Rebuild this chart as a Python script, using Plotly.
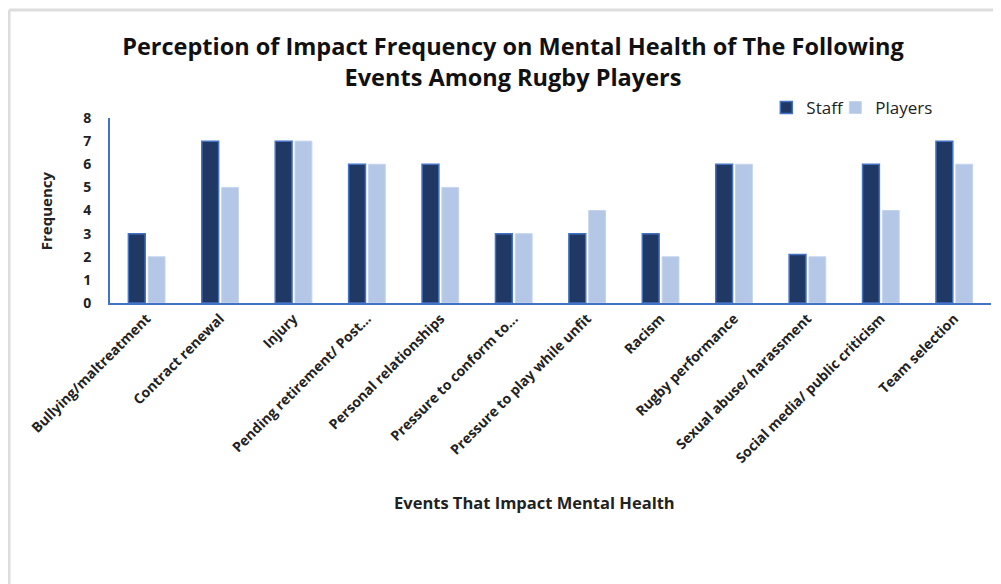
import plotly.graph_objects as go

events = [
    "Bullying/maltreatment",
    "Contract renewal",
    "Injury",
    "Pending retirement/ Post...",
    "Personal relationships",
    "Pressure to conform to...",
    "Pressure to play while unfit",
    "Racism",
    "Rugby performance",
    "Sexual abuse/ harassment",
    "Social media/ public criticism",
    "Team selection",
]
staff = [3, 7, 7, 6, 6, 3, 3, 3, 6, 2.1, 6, 7]
players = [2, 5, 7, 6, 5, 3, 4, 2, 6, 2, 4, 6]

FONT = "Open Sans"
AXIS_BLUE = "#4472C4"

fig = go.Figure()
fig.add_trace(go.Bar(
    name="Staff", x=events, y=staff, legend="legend", showlegend=True,
    marker=dict(color="#203864", line=dict(color=AXIS_BLUE, width=1.5)),
))
fig.add_trace(go.Bar(
    name="Players", x=events, y=players, legend="legend2", showlegend=True,
    marker=dict(color="#B4C7E7", line=dict(color="#C5D4EE", width=1)),
))

legend_style = dict(
    orientation="h", y=1.054, xanchor="left", yanchor="middle",
    font=dict(size=17, color="#222"), itemwidth=30, bgcolor="rgba(0,0,0,0)",
)

# the page body adds an 8px offset, so margins are shifted to compensate
fig.update_layout(
    width=1001, height=584,
    paper_bgcolor="white", plot_bgcolor="white",
    margin=dict(l=102, r=18, t=110, b=289),
    barmode="group", bargap=0.46, bargroupgap=0.15,
    font=dict(family=FONT, color="#222"),
    showlegend=True,
    title=dict(
        text="Perception of Impact Frequency on Mental Health of The Following<br>Events Among Rugby Players",
        x=505 / 1001, xanchor="center", y=0.919, yanchor="middle",
        font=dict(family=FONT, size=23.5, color="#111", weight="bold"),
    ),
    legend=dict(x=0.745, **legend_style),
    legend2=dict(x=0.8233, **legend_style),
    xaxis=dict(
        showline=True, linecolor=AXIS_BLUE, linewidth=2, showgrid=False,
        tickangle=-45, ticks="", automargin=False,
        tickfont=dict(size=14, color="#222", weight="bold"),
    ),
    yaxis=dict(
        range=[0, 8], dtick=1, showline=True, linecolor=AXIS_BLUE, linewidth=2,
        showgrid=False, zeroline=False, ticks="", automargin=False,
        tickfont=dict(size=14, color="#222", weight="bold"),
        ticklabelstandoff=14,
    ),
    annotations=[
        dict(text="<b>Frequency</b>", xref="paper", yref="paper",
             x=-0.073, y=0.5, xanchor="center", yanchor="middle",
             textangle=-90, showarrow=False,
             font=dict(size=15, color="#222")),
        dict(text="<b>Events That Impact Mental Health</b>", xref="paper", yref="paper",
             x=0.482, y=-1.081, xanchor="center", yanchor="middle", showarrow=False,
             font=dict(size=16.5, color="#222")),
    ],
    shapes=[
        dict(type="line", xref="paper", yref="paper", x0=-0.1146, x1=1.03,
             y0=1.584, y1=1.584, line=dict(color="#DDDDDD", width=3)),
        dict(type="line", xref="paper", yref="paper", x0=-0.1146, x1=-0.1146,
             y0=-1.6, y1=1.584, line=dict(color="#DDDDDD", width=3)),
    ],
)

fig.write_html("out.html")
